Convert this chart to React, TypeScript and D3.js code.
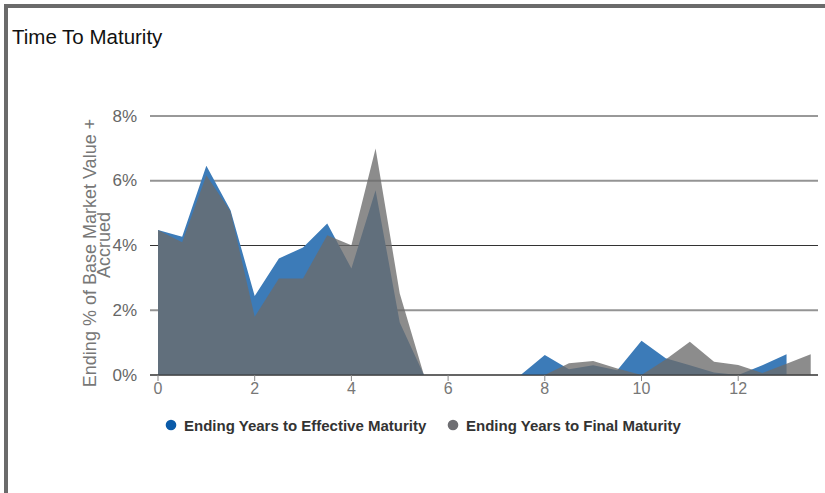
import React from "react";
import * as d3 from "d3";

// Maturity buckets in years (half-year steps)
const years = [0, 0.5, 1, 1.5, 2, 2.5, 3, 3.5, 4, 4.5, 5, 5.5, 6, 6.5, 7, 7.5, 8, 8.5, 9, 9.5, 10, 10.5, 11, 11.5, 12, 12.5, 13, 13.5];

// Ending % of base market value + accrued
const effectiveMaturity = [4.48, 4.27, 6.46, 5.09, 2.44, 3.6, 3.94, 4.68, 3.29, 5.71, 1.62, 0, 0, 0, 0, 0, 0.62, 0.18, 0.3, 0.15, 1.06, 0.52, 0.3, 0.08, 0, 0.3, 0.64];
const finalMaturity = [4.48, 4.1, 6.17, 5.05, 1.8, 2.98, 2.98, 4.32, 4.01, 7.0, 2.52, 0, 0, 0, 0, 0, 0, 0.36, 0.43, 0.2, 0, 0.48, 1.03, 0.41, 0.31, 0.06, 0.35, 0.64];

const yTicks = [0, 2, 4, 6, 8];
const xTicks = [0, 2, 4, 6, 8, 10, 12];

const seriesNames = ["Ending Years to Effective Maturity", "Ending Years to Final Maturity"];

const W = 825;
const H = 493;
const plotLeft = 150;
const plotRight = 818;
const FONT = "'Liberation Sans', Arial, Helvetica, sans-serif";

export default function App() {
  const x = d3.scaleLinear().domain([0, 13.5]).range([158, 158 + 13.5 * 48.35]);
  const y = d3.scaleLinear().domain([0, 8]).range([375, 116]);

  const area = d3
    .area<[number, number]>()
    .x((d) => x(d[0]))
    .y0(y(0))
    .y1((d) => y(d[1]));

  const effPts = effectiveMaturity.map((v, i) => [years[i], v] as [number, number]);
  const finPts = finalMaturity.map((v, i) => [years[i], v] as [number, number]);

  return (
    <div style={{ position: "absolute", left: 0, top: 0 }}>
      <svg width={W} height={H} style={{ display: "block", fontFamily: FONT }}>
        <rect x={0} y={0} width={W} height={H} fill="#fff" />
        {/* frame */}
        <line x1={4} x2={W} y1={6} y2={6} stroke="#6b6b6b" strokeWidth={4} />
        <line x1={6} x2={6} y1={4} y2={H} stroke="#6b6b6b" strokeWidth={4} />

        <text x={12} y={44} fontSize={20.5} fill="#111">Time To Maturity</text>

        {/* grid */}
        {yTicks.map((t) => (
          <line
            key={t}
            x1={plotLeft}
            x2={plotRight}
            y1={y(t)}
            y2={y(t)}
            stroke={t % 4 === 0 ? "#333" : "#949494"}
            strokeWidth={t % 4 === 0 ? 1 : 2}
          />
        ))}

        {/* series */}
        <path d={area(effPts) || ""} fill="#3c7bb8" />
        <path d={area(finPts) || ""} fill="#6c6c6c" fillOpacity={0.78} />

        <line x1={plotLeft} x2={plotRight} y1={y(0)} y2={y(0)} stroke="#333" strokeWidth={1.2} />

        {/* y axis labels */}
        {yTicks.map((t) => (
          <text key={t} x={137} y={y(t) + 5.5} fontSize={17} fill="#666" textAnchor="end">
            {`${t}%`}
          </text>
        ))}

        {/* x axis ticks */}
        {xTicks.map((t) => (
          <g key={t} transform={`translate(${x(t)},${y(0)})`}>
            <line y1={0} y2={6} stroke="#888" />
            <text y={19} fontSize={16} fill="#777" textAnchor="middle">{t}</text>
          </g>
        ))}

        {/* y axis title */}
        <g transform={`translate(96,253) rotate(-90)`}>
          <text fontSize={18} fill="#777" textAnchor="middle">Ending % of Base Market Value +</text>
        </g>
        <g transform={`translate(110,245) rotate(-90)`}>
          <text fontSize={18} fill="#777" textAnchor="middle">Accrued</text>
        </g>

        {/* legend */}
        <circle cx={171} cy={425} r={5.3} fill="#0a5aa8" />
        <text x={184} y={430.5} fontSize={15} fontWeight="bold" fill="#333">{seriesNames[0]}</text>
        <circle cx={453} cy={425} r={5.3} fill="#6e6e72" />
        <text x={466} y={430.5} fontSize={15} fontWeight="bold" fill="#333">{seriesNames[1]}</text>
      </svg>
    </div>
  );
}
